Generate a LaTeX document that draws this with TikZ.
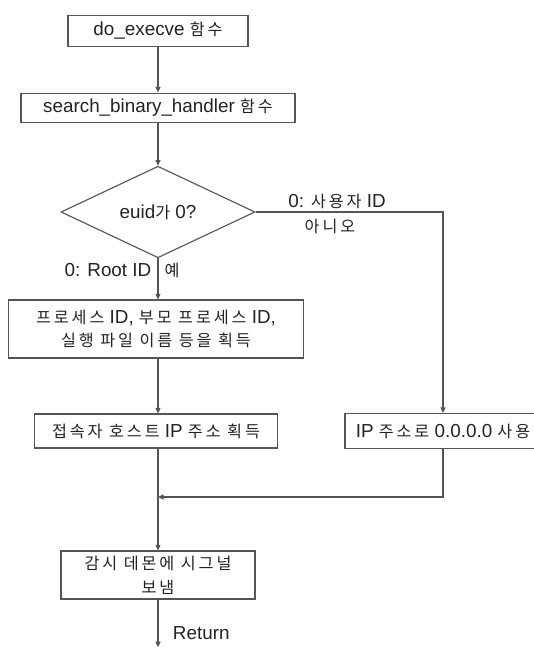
\documentclass[tikz,border=0pt]{standalone}
\usepackage{fontspec}
\setmainfont{Liberation Sans}
\newfontfamily\kr{Noto Sans CJK KR}[Scale=0.86,LetterSpace=18]
\newcommand{\ko}[1]{{\kr #1}}
\usetikzlibrary{shapes.geometric,arrows.meta}
\definecolor{lineg}{HTML}{555555}
\definecolor{textg}{HTML}{222222}

\begin{document}
\begin{tikzpicture}[
	font=\fontsize{13.4}{17}\selectfont, text=textg,
	box/.style={draw=lineg, line width=0.8pt, rectangle, inner sep=0pt, align=center},
	cond/.style={draw=lineg, line width=0.8pt, diamond, inner sep=0pt, minimum width=4.85cm, minimum height=1.55cm},
	flow/.style={color=lineg, line width=0.8pt, -{Triangle[length=4pt,width=3.6pt]}},
	plain/.style={color=lineg, line width=0.8pt},
	]
		\useasboundingbox (0,0) rectangle (13.325,-16.2);
		% main column
		\node[box, minimum width=4.5cm, minimum height=0.775cm] (exec) at (3.95,-0.775) {do\_execve \ko{함수}};
		\node[box, minimum width=6.85cm, minimum height=0.725cm] (search) at (3.95,-2.69) {search\_binary\_handler \ko{함수}};
		\node[cond] (euid) at (3.95,-5.3) {euid\ko{가} 0?};
		\node[box, minimum width=7.375cm, minimum height=1.45cm] (proc) at (3.9,-8.225) {\ko{프로세스} ID, \ko{부모 프로세스} ID,\\ \ko{실행 파일 이름 등을 획득}};
		\node[box, minimum width=6.075cm, minimum height=0.85cm] (host) at (3.9,-10.775) {\ko{접속자 호스트} IP \ko{주소 획득}};
		\node[box, minimum width=4.85cm, minimum height=1.2cm] (signal) at (3.95,-14.375) {\ko{감시 데몬에 시그널}\\ \ko{보냄}};
		% side branch
		\node[box, minimum width=4.9cm, minimum height=0.875cm] (ipzero) at (11.075,-10.775) {IP \ko{주소로} 0.0.0.0 \ko{사용}};
		\coordinate (corner) at (euid.east -| ipzero.north);
		\coordinate (join) at (3.95,-12.425);
		\coordinate (out) at (3.95,-16.18);
		% labels
		\node (user) at (8.425,-5.025) {0: \ko{사용자} ID};
		\node (no) at (8.25,-5.65) {\ko{아니오}};
		\node (root) at (2.7,-6.75) {0: Root ID};
		\node (yes) at (4.3,-6.75) {\ko{예}};
		\node[anchor=west] (ret) at (4.2,-15.83) {Return};
		% connectors
		\draw[flow] (exec) -- (search);
		\draw[flow] (search) -- (euid);
		\draw[flow] (euid.south) -- (euid.south |- proc.north);
		\draw[flow] (euid.south |- proc.south) -- (euid.south |- host.north);
		\draw[flow] (euid.east) -- (corner) -- (ipzero.north);
		\draw[plain] (euid.south |- host.south) -- (join);
		\draw[flow] (join) -- (signal);
		\draw[flow] (ipzero.south) |- (join);
		\draw[flow] (signal) -- (out);
\end{tikzpicture}
\end{document}
